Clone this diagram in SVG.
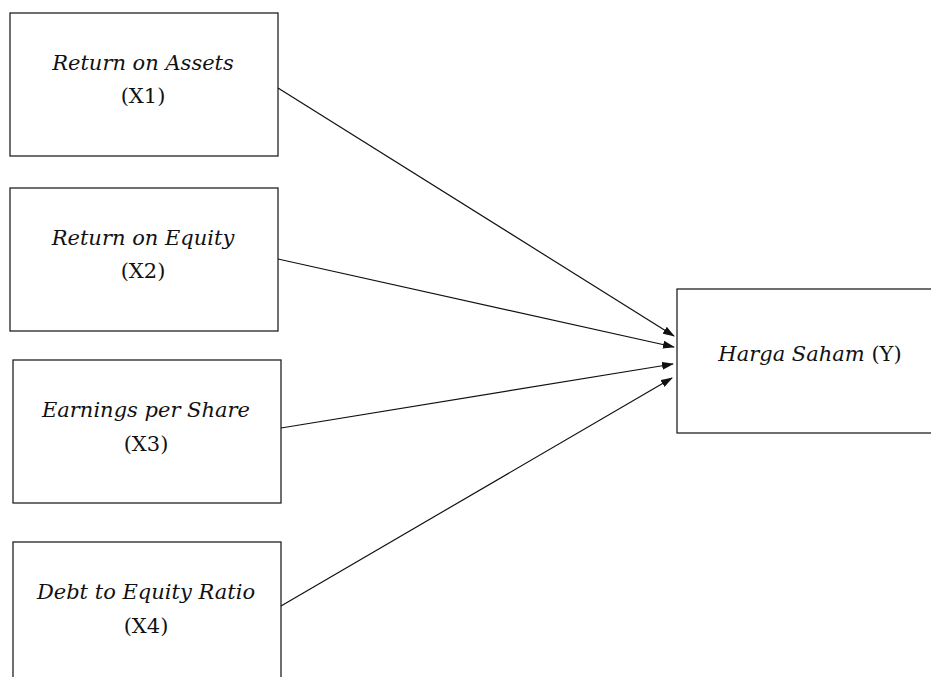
<svg xmlns="http://www.w3.org/2000/svg" width="931" height="677" viewBox="0 0 931 677">
<style>
.box{fill:#fff;stroke:#222;stroke-width:1.3}
.t{font-family:"DejaVu Serif","Liberation Serif",serif;font-size:21px;fill:#111;text-anchor:middle}
.i{font-style:italic}
.c{stroke:#111;stroke-width:1.2;fill:none}
</style>
<defs>
<marker id="ah" markerWidth="12" markerHeight="8" refX="11" refY="4" orient="auto" markerUnits="userSpaceOnUse">
<path d="M0,0 L12,4 L0,8 Z" fill="#111"/>
</marker>
</defs>
<rect width="931" height="677" fill="#fff"/>
<g id="x1">
<rect class="box" x="10" y="13" width="268" height="143"/>
<text class="t i" x="143" y="70">Return on Assets</text>
<text class="t" x="143" y="103">(X1)</text>
</g>
<g id="x2">
<rect class="box" x="10" y="188" width="268" height="143"/>
<text class="t i" x="143" y="245">Return on Equity</text>
<text class="t" x="143" y="278">(X2)</text>
</g>
<g id="x3">
<rect class="box" x="13" y="360" width="268" height="143"/>
<text class="t i" x="146" y="417">Earnings per Share</text>
<text class="t" x="146" y="451">(X3)</text>
</g>
<g id="x4">
<rect class="box" x="13" y="542" width="268" height="143"/>
<text class="t i" x="146" y="599">Debt to Equity Ratio</text>
<text class="t" x="146" y="633">(X4)</text>
</g>
<g id="y">
<rect class="box" x="677" y="289" width="260" height="144"/>
<text class="t" x="810" y="361"><tspan class="i">Harga Saham</tspan> (Y)</text>
</g>
<g id="connectors">
<line class="c" x1="278" y1="88" x2="674" y2="336" marker-end="url(#ah)"/>
<line class="c" x1="278" y1="259" x2="674" y2="347" marker-end="url(#ah)"/>
<line class="c" x1="281" y1="428" x2="673" y2="364" marker-end="url(#ah)"/>
<line class="c" x1="281" y1="606" x2="672" y2="378" marker-end="url(#ah)"/>
</g>
</svg>
